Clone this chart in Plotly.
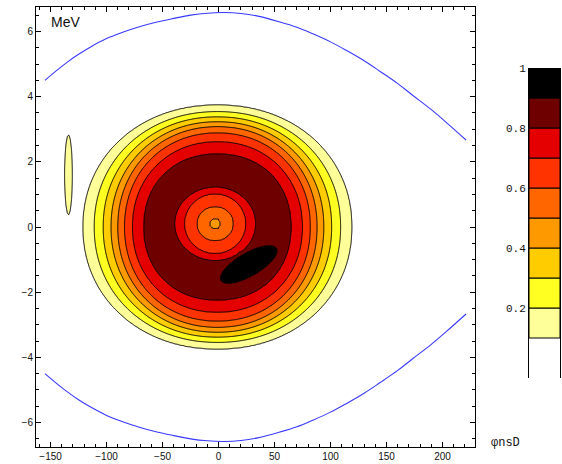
import numpy as np
import plotly.graph_objects as go

# ---------------- data ----------------
# contour level boundaries (nested, outer -> inner): value, centre, semi-axes, superellipse exponent
lev_val = [0.0, 0.1, 0.2, 0.3, 0.4, 0.5, 0.6, 0.7, 0.8, 0.87, 0.8, 0.7, 0.6, 0.5, 0.42]
lev_ax = [140, 120, 110, 102, 95, 89, 83, 76, 66, 52, 36, 27.5, 16.5, 5.0, 0.05]
lev_ay = [4.4, 3.74, 3.54, 3.38, 3.23, 3.08, 2.89, 2.62, 2.25, 1.75, 1.12, 0.92, 0.53, 0.18, 0.002]
lev_cx = [-1, -1, -1, -1, -1, -1, -1, -1, -1, -2, -3, -3, -3, -3, -3]
lev_cy = [0, 0, 0, 0, 0, 0, 0, 0, 0, 0.03, 0.1, 0.1, 0.1, 0.1, 0.1]
lev_p = [2.1, 2.1, 2.1, 2.1, 2.1, 2.1, 2.1, 2.1, 2.15, 2.1, 2.0, 2.0, 2.0, 2.0, 2.0]

# black (>0.9) blob: centre, half-length, half-width (pixels), tilt (deg), peak
blob = dict(cx=27.0, cy=-1.15, a=32.0, b=11.5, ang=30.0, peak=0.97)
# thin pale-yellow sliver on the left
sliver = dict(cx=-134.0, cy=1.6, a=3.9, b=40.0, peak=0.16)

# separatrix (upper branch); lower branch is its mirror image
sep_x = [-155, -145, -135, -125, -115, -100, -85, -70, -55, -40, -25, -10, 5, 20,
         35, 54, 70, 84, 100, 114, 130, 144, 160, 173, 190, 203, 221]
sep_y = [4.50, 4.79, 5.06, 5.30, 5.51, 5.78, 5.98, 6.15, 6.29, 6.40, 6.50, 6.56, 6.58, 6.55,
         6.47, 6.30, 6.13, 5.93, 5.68, 5.42, 5.10, 4.78, 4.40, 4.05, 3.60, 3.22, 2.67]

# legend bands
band_lo = [0.0, 0.1, 0.2, 0.3, 0.4, 0.5, 0.6, 0.7, 0.8, 0.9]
band_colors = ["#FFFFFF", "#FFFF99", "#FFFF22", "#FFCC00", "#FF9900",
               "#FF6600", "#FF3300", "#E50000", "#6E0000", "#000000"]
cb_ticks = [0.2, 0.4, 0.6, 0.8, 1.0]
cb_ticktext = ["0.2", "0.4", "0.6", "0.8", "1"]

x_ticks = [-150, -100, -50, 0, 50, 100, 150, 200]
y_ticks = [-6, -4, -2, 0, 2, 4, 6]

# ---------------- build the density field ----------------
PX_X, PX_Y = 1.12, 32.6   # pixels per data unit
gx = np.arange(-150, 135.01, 1.25)
gy = np.arange(-4.6, 4.601, 0.04)
X, Y = np.meshgrid(gx, gy)

K = len(lev_val)
G = np.empty((K,) + X.shape)
for k in range(K):
    p = lev_p[k]
    s = (np.abs((X - lev_cx[k]) / lev_ax[k]) ** p + np.abs((Y - lev_cy[k]) / lev_ay[k]) ** p) ** (1.0 / p)
    G[k] = s - 1.0
inside = (G <= 0)
idx = inside.sum(axis=0) - 1
Z = np.zeros(X.shape)
vals = np.array(lev_val)
for k in range(K):
    m = idx == k
    if k == K - 1:
        Z[m] = vals[k]
    else:
        gk = G[k][m]
        gk1 = G[k + 1][m]
        t = (0 - gk) / (gk1 - gk)
        Z[m] = vals[k] + (vals[k + 1] - vals[k]) * t

th = np.deg2rad(blob["ang"])
dxp = (X - blob["cx"]) * PX_X
dyp = (Y - blob["cy"]) * PX_Y
u = dxp * np.cos(th) + dyp * np.sin(th)
v = -dxp * np.sin(th) + dyp * np.cos(th)
q2 = (u / blob["a"]) ** 2 + (v / blob["b"]) ** 2
zb = np.where(q2 < 1.6, blob["peak"] - (blob["peak"] - 0.9) * q2, 0.0)
Z = np.maximum(Z, zb)

q2s = (((X - sliver["cx"]) * PX_X) / sliver["a"]) ** 2 + (((Y - sliver["cy"]) * PX_Y) / sliver["b"]) ** 2
zs = np.where(q2s < 2.0, sliver["peak"] - (sliver["peak"] - 0.1) * q2s, 0.0)
Z = np.maximum(Z, zs)
Z = np.round(Z, 4)

# stepped colorscale: plotly samples band colours at fractions i/9
cs = []
n = len(band_colors)
for i, c in enumerate(band_colors):
    lo = 0.0 if i == 0 else (i - 0.5) / (n - 1)
    hi = 1.0 if i == n - 1 else (i + 0.5) / (n - 1)
    cs.append([lo, c])
    cs.append([hi, c])

fig = go.Figure()
fig.add_trace(go.Contour(
    x=gx, y=gy, z=Z,
    autocontour=False,
    contours=dict(start=0.1, end=0.9, size=0.1, coloring="fill"),
    colorscale=cs, showscale=False,
    line=dict(color="black", width=1, smoothing=0.6),
    hoverinfo="skip",
))

lower_y = [-v_ for v_ in sep_y]
for yy in (sep_y, lower_y):
    fig.add_trace(go.Scatter(x=sep_x, y=yy, mode="lines",
                             line=dict(color="#3a3aff", width=1.1, shape="spline", smoothing=1.0),
                             hoverinfo="skip", showlegend=False))

# legend bar
fig.add_trace(go.Bar(
    x=[0] * len(band_lo), y=[0.1] * len(band_lo), base=band_lo,
    marker=dict(color=band_colors,
                line=dict(color="black", width=[0] + [1] * (len(band_lo) - 1))),
    width=1.0, xaxis="x2", yaxis="y2", showlegend=False, hoverinfo="skip",
))

tick_font = dict(family="Liberation Sans", size=10, color="#111")
W, H = 562, 464
ml, mr, mt, mb = 36, 0, 7, 17
pw = W - ml - mr
ph = H - mt - mb

fig.update_layout(
    width=W, height=H,
    margin=dict(l=ml, r=mr, t=mt, b=mb),
    paper_bgcolor="white", plot_bgcolor="white",
    showlegend=False,
    xaxis=dict(domain=[0, (475 - ml) / pw], range=[-163, 229],
               tickvals=x_ticks, ticks="inside", ticklen=5, tickcolor="black",
               minor=dict(dtick=10, ticks="inside", ticklen=3, tickcolor="black"),
               showline=True, linecolor="black", linewidth=1, mirror="ticks",
               showgrid=False, zeroline=False, tickfont=tick_font),
    yaxis=dict(domain=[0, 1], range=[-6.75, 6.75],
               tickvals=y_ticks, ticks="inside", ticklen=5, tickcolor="black",
               minor=dict(dtick=0.5, ticks="inside", ticklen=3, tickcolor="black"),
               showline=True, linecolor="black", linewidth=1, mirror="ticks",
               showgrid=False, zeroline=False, tickfont=tick_font),
    xaxis2=dict(domain=[(529 - ml) / pw, (560 - ml) / pw], range=[-0.5, 0.5],
                anchor="y2", showticklabels=False, showgrid=False, zeroline=False,
                showline=False, fixedrange=True),
    yaxis2=dict(domain=[(H - mb - 378) / ph, (H - mb - 68) / ph], range=[-1 / 30, 1],
                anchor="x2", tickvals=cb_ticks, ticktext=cb_ticktext, ticks="",
                showline=True, mirror=True, linecolor="black", linewidth=1,
                showgrid=False, zeroline=False,
                tickfont=dict(family="Liberation Mono", size=11, color="#111")),
    annotations=[
        dict(text="MeV", xref="paper", yref="paper", x=(49 - ml) / pw, y=(H - mb - 22) / ph,
             xanchor="left", yanchor="middle", showarrow=False,
             font=dict(family="Liberation Sans", size=14, color="#111")),
        dict(text="φnsD", xref="paper", yref="paper", x=(489 - ml) / pw, y=(H - mb - 443) / ph,
             xanchor="left", yanchor="middle", showarrow=False,
             font=dict(family="Liberation Mono", size=12, color="#111")),
    ],
)

fig.write_html("out.html", config={"displayModeBar": False},
               post_script="document.body.style.margin='0px';document.body.style.overflow='hidden';")
